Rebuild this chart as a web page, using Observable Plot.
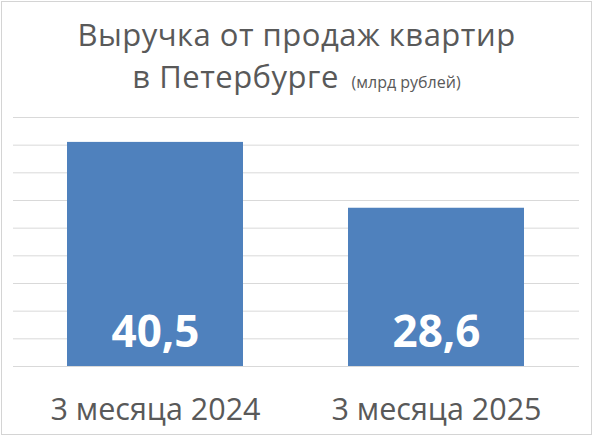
<!DOCTYPE html>
<html>
<head>
<meta charset="utf-8">
<script src="https://cdn.jsdelivr.net/npm/d3@7"></script>
<script src="https://cdn.jsdelivr.net/npm/@observablehq/plot@0.6"></script>
<style>
  html, body { margin: 0; padding: 0; background: #fff; }
  #frame {
    position: absolute; left: 1px; top: 1px; width: 591px; height: 434px;
    box-sizing: border-box; border: 1px solid #d4d4d4; background: #fff;
  }
  #title {
    position: absolute; left: 0; top: 0; width: 593px; padding-top: 13px;
    text-align: center; font-family: "Open Sans", sans-serif; color: #595959;
    font-size: 31px; line-height: 42px; letter-spacing: 0.5px;
  }
  #title .sub { font-size: 16px; letter-spacing: 0; }
  #chart { position: absolute; left: 0; top: 100px; }
</style>
</head>
<body>
<div id="frame"></div>
<div id="title">Выручка от продаж квартир<br>в Петербурге <span class="sub">&nbsp;(млрд рублей)</span></div>
<div id="chart"></div>
<script>
const categories = ["3 месяца 2024", "3 месяца 2025"];
const values = [40.5, 28.6];
const valueLabels = ["40,5", "28,6"];
const yTicks = [0, 5, 10, 15, 20, 25, 30, 35, 40, 45];

const data = categories.map((c, i) => ({cat: c, value: values[i], label: valueLabels[i]}));

const chart = Plot.plot({
  width: 593,
  height: 339,
  marginLeft: 13,
  marginRight: 14,
  marginTop: 17,
  marginBottom: 73,
  style: {fontFamily: "'Open Sans', sans-serif", color: "#595959", background: "transparent"},
  x: {domain: categories, paddingInner: 0.372, paddingOuter: 0.19, label: null},
  y: {domain: [0, 45], axis: null},
  marks: [
    Plot.ruleY(yTicks, {stroke: "#d9d9d9", strokeWidth: 1}),
    Plot.barY(data, {x: "cat", y: "value", fill: "#4f81bd"}),
    Plot.text(data, {x: "cat", text: "label", frameAnchor: "bottom", dy: -34, lineAnchor: "middle",
      fill: "white", fontWeight: "bold", fontSize: 44}),
    Plot.axisX({tickSize: 0, tickPadding: 32, fontSize: 30.5, fill: "#595959", label: null})
  ]
});
document.getElementById("chart").appendChild(chart);
</script>
</body>
</html>
